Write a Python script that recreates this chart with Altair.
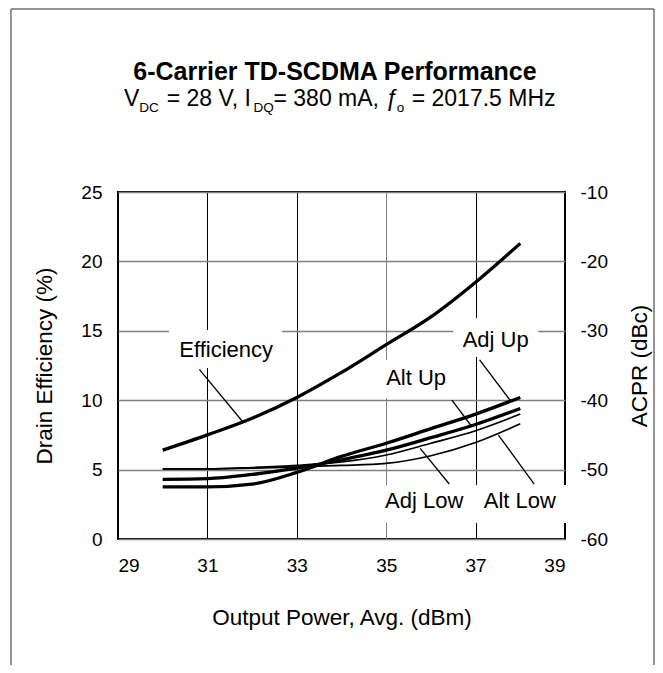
import altair as alt
import pandas as pd

# ---- data ----
x_dbm = [30, 31, 32, 33, 34, 35, 36, 37, 38]
efficiency = [6.4, 7.5, 8.7, 10.2, 12.0, 14.0, 16.0, 18.5, 21.3]
adj_up = [-52.5, -52.5, -52.1, -50.4, -48.1, -46.2, -44.1, -42.0, -39.6]
alt_up = [-51.4, -51.3, -50.7, -49.8, -48.6, -47.2, -45.4, -43.5, -41.2]
adj_low = [-49.9, -49.9, -49.7, -49.4, -48.9, -47.9, -46.2, -44.4, -42.0]
alt_low = [-49.9, -49.9, -49.8, -49.6, -49.4, -49.1, -48.0, -46.1, -43.4]
x_ticks = [29, 31, 33, 35, 37, 39]
eff_ticks = [0, 5, 10, 15, 20, 25]
acpr_ticks = [-60, -50, -40, -30, -20, -10]

FONT = "Liberation Sans"

eff_df = pd.DataFrame({"x": x_dbm, "eff": efficiency})
series = {"Adj Up": adj_up, "Alt Up": alt_up, "Adj Low": adj_low, "Alt Low": alt_low}
thick = {"Adj Up": 3.3, "Alt Up": 3.3, "Adj Low": 1.7, "Alt Low": 1.7}
rows = []
for name, vals in series.items():
    for xv, v in zip(x_dbm, vals):
        rows.append({"x": xv, "acpr": v, "series": name, "w": thick[name]})
acpr_df = pd.DataFrame(rows)

x_enc = alt.X(
    "x:Q",
    scale=alt.Scale(domain=[29, 39], nice=False, zero=False),
    axis=alt.Axis(
        values=x_ticks, title="Output Power, Avg. (dBm)", grid=True,
        gridColor={"condition": {"test": "datum.value == 35", "value": "#808080"}, "value": "#000000"},
        gridWidth=1, labelPadding=17, titlePadding=31, ticks=False, tickSize=0, domain=False,
    ),
)
EFF_SCALE = alt.Scale(domain=[0, 25], nice=False, zero=False)

eff_line = alt.Chart(eff_df).mark_line(color="black", strokeWidth=3.3, interpolate="monotone").encode(
    x=x_enc,
    y=alt.Y("eff:Q", scale=EFF_SCALE,
            axis=alt.Axis(values=eff_ticks, title="Drain Efficiency (%)", orient="left", grid=True,
                          gridColor="#808080", gridWidth=1.5, labelPadding=16, titlePadding=24,
                          ticks=False, tickSize=0, domain=False)),
)

one = alt.Data(values=[{}])


def box(x1, x2, y1, y2):
    return alt.Chart(one).mark_rect(color="white").encode(
        x=alt.XDatum(x1), x2=alt.X2Datum(x2),
        y=alt.YDatum(y1, scale=EFF_SCALE), y2=alt.Y2Datum(y2),
    )


def leader(x1, y1, x2, y2):
    return alt.Chart(one).mark_rule(color="black", strokeWidth=1.3).encode(
        x=alt.XDatum(x1), x2=alt.X2Datum(x2),
        y=alt.YDatum(y1, scale=EFF_SCALE), y2=alt.Y2Datum(y2),
    )


def label(txt, xv, yv):
    return alt.Chart(one).mark_text(text=txt, font=FONT, fontSize=22, color="black",
                                    align="center", baseline="alphabetic").encode(
        x=alt.XDatum(xv), y=alt.YDatum(yv, scale=EFF_SCALE),
    )


def ptext(txt, px, py, size=23, weight="normal", style="normal", align="left"):
    return alt.Chart(one).mark_text(text=txt, font=FONT, fontSize=size, fontWeight=weight,
                                    fontStyle=style, color="black", align=align,
                                    baseline="alphabetic").encode(
        x=alt.value(px), y=alt.value(py),
    )


def prule(x1, x2, y1, y2):
    return alt.Chart(one).mark_rule(color="#707070", strokeWidth=1.5).encode(
        x=alt.value(x1), x2=alt.value(x2), y=alt.value(y1), y2=alt.value(y2),
    )


left_group = alt.layer(
    eff_line,
    box(30.14, 32.67, 12.32, 15.06),
    box(36.5, 38.4, 13.11, 15.92),
    box(34.87, 36.54, 10.16, 12.9),
    box(34.87, 37.06, 1.15, 3.89),
    box(37.1, 39.07, 1.15, 3.89),
    leader(30.82, 12.22, 31.79, 8.45),
    leader(37.09, 12.9, 37.78, 9.96),
    leader(36.47, 10.01, 36.9, 8.16),
    leader(35.76, 6.53, 36.41, 3.96),
    leader(37.51, 7.49, 38.31, 3.96),
    label("Efficiency", 31.42, 13.13),
    label("Adj Up", 37.45, 13.85),
    label("Alt Up", 35.67, 11.1),
    label("Adj Low", 35.85, 2.26),
    label("Alt Low", 37.99, 2.26),
    # title and subtitle
    ptext("6-Carrier TD-SCDMA Performance", 217, -112, size=25, weight="bold", align="center"),
    ptext("V", 6, -86),
    ptext("DC", 21.3, -80.5, size=13.5),
    ptext("= 28 V, I", 48.7, -86),
    ptext("DQ", 135.5, -80.5, size=13.5),
    ptext("= 380 mA,", 155.5, -86),
    ptext("ƒ", 267, -86, style="italic"),
    ptext("o", 278.7, -80.5, size=13.5),
    ptext("= 2017.5 MHz", 293.7, -86),
    # outer frame
    prule(-107, -107, -183, 473),
    prule(536, 536, -183, 473),
    prule(-107, 536, -183, -183),
)

acpr_lines = alt.Chart(acpr_df).mark_line(color="black", interpolate="monotone").encode(
    x=x_enc,
    y=alt.Y("acpr:Q", scale=alt.Scale(domain=[-60, -10], nice=False, zero=False),
            axis=alt.Axis(values=acpr_ticks, title="ACPR (dBc)", orient="right", grid=False,
                          labelExpr="'' + datum.value",
                          labelPadding=15, titlePadding=21, titleAngle=270, titleBaseline="top",
                          ticks=False, tickSize=0, domain=False)),
    detail="series:N",
    strokeWidth=alt.StrokeWidth("w:Q", scale=None),
)

chart = alt.layer(acpr_lines, left_group).resolve_scale(y="independent").properties(
    width=447, height=347,
    padding={"left": 110, "top": 184, "right": 90, "bottom": 126},
    autosize=alt.AutoSizeParams(type="none"),
).configure_view(stroke="black", strokeWidth=2).configure_axis(
    labelFont=FONT, titleFont=FONT, labelFontSize=19, titleFontSize=22.5,
    titleFontWeight="normal", labelColor="black", titleColor="black",
)

chart.save("out.html", embed_options={"renderer": "svg", "actions": False})
